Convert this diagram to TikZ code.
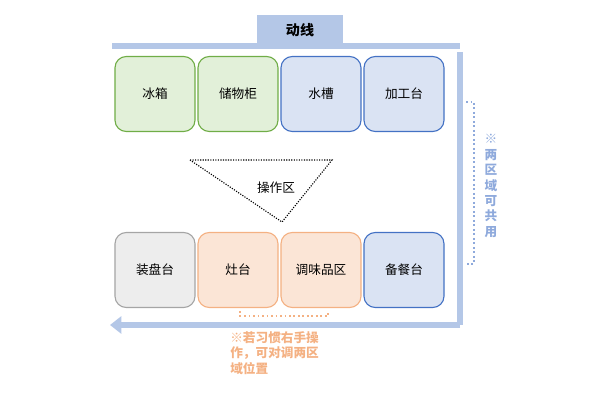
\documentclass[tikz,border=0pt]{standalone}
\usepackage{fontspec}
\setmainfont{Noto Sans CJK SC}
\usetikzlibrary{arrows.meta}
\definecolor{flowblue}{HTML}{B4C7E7}
\definecolor{notegrey}{HTML}{8FAADC}
\definecolor{noteorange}{HTML}{F4B183}
\tikzset{unit/.style = {draw, rounded corners=8pt, minimum width=2cm, minimum height=1.875cm, line width=0.8pt, font=\small}}
\tikzset{storeunit/.style = {unit, fill={rgb,255:red,226;green,240;blue,217}, draw={rgb,255:red,112;green,173;blue,71}}}
\tikzset{washunit/.style = {unit, fill={rgb,255:red,218;green,227;blue,243}, draw={rgb,255:red,68;green,114;blue,196}}}
\tikzset{plateunit/.style = {unit, fill={rgb,255:red,237;green,237;blue,237}, draw={rgb,255:red,165;green,165;blue,165}}}
\tikzset{cookunit/.style = {unit, fill={rgb,255:red,251;green,229;blue,214}, draw={rgb,255:red,244;green,177;blue,131}}}
\tikzset{flow/.style = {draw=flowblue, line width=4pt}}
\begin{document}
\begin{tikzpicture}[x=0.025cm, y=-0.025cm]
            \useasboundingbox (0,0) rectangle (600,406);
            % Title
            \node[fill=flowblue, minimum width=2.15cm, minimum height=0.75cm, font=\bfseries] (title) at (300,30) {动线};
            \coordinate (tl) at (112,46);
            \coordinate (tr) at (460,46);
            \coordinate (br) at (460,325);
            \coordinate (bl) at (110,325);
            \draw[flow] (tl) -- (tr);
            \draw[flow] (460,52) -- (br);
            \draw[flow, -{Triangle[length=8pt,width=12pt]}] (br) -- (bl);

            % Top row
            \node[storeunit] (fridge) at (155,94) {冰箱};
            \node[storeunit] (cabinet) at (238,94) {储物柜};
            \node[washunit] (sink) at (321,94) {水槽};
            \node[washunit] (prep) at (404,94) {加工台};

            % Bottom row
            \node[plateunit] (plate) at (155,270) {装盘台};
            \node[cookunit] (stove) at (238,270) {灶台};
            \node[cookunit] (spice) at (321,270) {调味品区};
            \node[washunit] (serve) at (404,270) {备餐台};

            % Work zone
            \coordinate (ta) at (190,160);
            \coordinate (tb) at (332,160);
            \coordinate (tc) at (282,222);
            \draw[densely dotted, thick] (ta) -- (tb) -- (tc) -- cycle;
            \node[font=\small] (zone) at (276,188) {操作区};

            % Notes
            \draw[dotted, very thick, notegrey] (466,102) -- (474,102) -- (474,264) -- (466,264);
            \node[notegrey, font=\small\bfseries, align=center, inner sep=0pt] (share) at (491,186) {※\\两\\区\\域\\可\\共\\用};
            \draw[dotted, very thick, noteorange] (240,311) -- (240,316) -- (328,316) -- (328,311);
            \node[noteorange, font=\small\bfseries, align=left, anchor=north west, inner sep=0pt] (swap) at (230,331) {※若习惯右手操\\作，可对调两区\\域位置};
        \end{tikzpicture}
\end{document}
